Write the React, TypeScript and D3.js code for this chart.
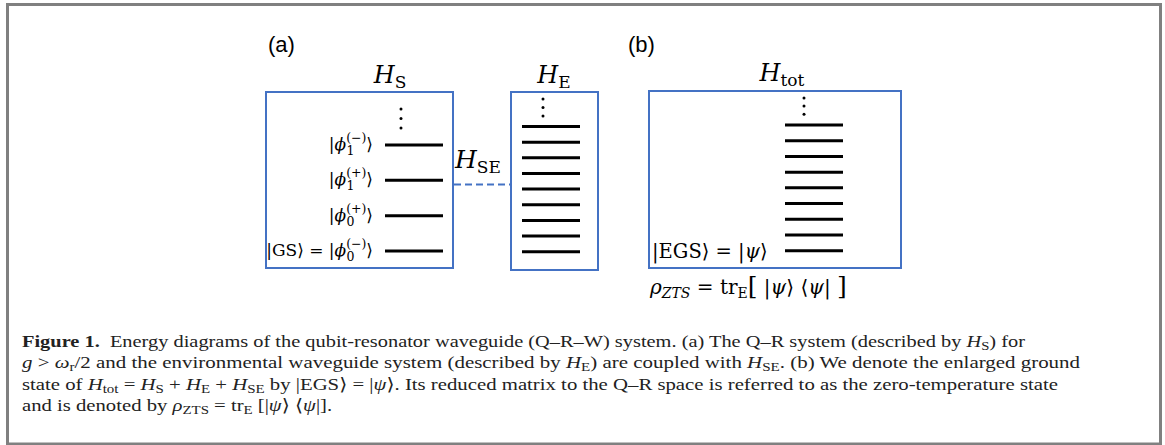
import React, { useLayoutEffect, useRef } from "react";
import * as d3 from "d3";

const W = 1165;
const H = 445;

// energy level indices
const sysLevels = [0, 1, 2, 3];
const sysSub = ["0", "0", "1", "1"];
const sysSup = ["(−)", "(+)", "(+)", "(−)"];
const sysPrefix = ["|GS⟩ = ", "", "", ""];
const envLevels = [0, 1, 2, 3, 4, 5, 6, 7, 8];
const totLevels = [0, 1, 2, 3, 4, 5, 6, 7, 8];

type Seg = { t: string; i?: boolean; b?: boolean; sub?: boolean };

const captionLines: Seg[][] = [
  [
    { t: "Figure 1.", b: true },
    { t: "  Energy diagrams of the qubit-resonator waveguide (Q–R–W) system. (a) The Q–R system (described by " },
    { t: "H", i: true },
    { t: "S", sub: true },
    { t: ") for" },
  ],
  [
    { t: "g", i: true },
    { t: " > " },
    { t: "ω", i: true },
    { t: "r", sub: true },
    { t: "/2 and the environmental waveguide system (described by " },
    { t: "H", i: true },
    { t: "E", sub: true },
    { t: ") are coupled with " },
    { t: "H", i: true },
    { t: "SE", sub: true },
    { t: ". (b) We denote the enlarged ground" },
  ],
  [
    { t: "state of " },
    { t: "H", i: true },
    { t: "tot", sub: true },
    { t: " = " },
    { t: "H", i: true },
    { t: "S", sub: true },
    { t: " + " },
    { t: "H", i: true },
    { t: "E", sub: true },
    { t: " + " },
    { t: "H", i: true },
    { t: "SE", sub: true },
    { t: " by |EGS⟩ = |" },
    { t: "ψ", i: true },
    { t: "⟩. Its reduced matrix to the Q–R space is referred to as the zero-temperature state" },
  ],
  [
    { t: "and is denoted by " },
    { t: "ρ", i: true },
    { t: "ZTS", sub: true },
    { t: " = tr" },
    { t: "E", sub: true },
    { t: " [|" },
    { t: "ψ", i: true },
    { t: "⟩ ⟨" },
    { t: "ψ", i: true },
    { t: "|]." },
  ],
];
const captionWidths = [1003, 1058, 1036, 0];
const captionBaselines = [347, 368.3, 389.6, 410.9];

const BLUE = "#4472C4";
const SERIF = "'Liberation Serif', 'DejaVu Serif', serif";
const MATH = "'DejaVu Serif', 'Liberation Serif', serif";
const SANS = "'Liberation Sans', Arial, sans-serif";
const CAP = 17.5;

function renderSegs(segs: Seg[], base: number) {
  let shifted = false;
  return segs.map((s, k) => {
    let dy: number | undefined;
    if (s.sub && !shifted) {
      dy = 3;
      shifted = true;
    } else if (!s.sub && shifted) {
      dy = -3;
      shifted = false;
    }
    return (
      <tspan
        key={k}
        dy={dy}
        fontStyle={s.i ? "italic" : undefined}
        fontWeight={s.b ? "bold" : undefined}
        fontSize={s.sub ? base * 0.72 : undefined}
      >
        {s.t}
      </tspan>
    );
  });
}

function HLabel({ x, y, sub, anchor }: { x: number; y: number; sub: string; anchor: string }) {
  return (
    <text x={x} y={y} textAnchor={anchor} fontFamily={MATH} fontSize={24} fill="#000">
      <tspan fontStyle="italic">H</tspan>
      <tspan fontSize={17} dy={5}>
        {sub}
      </tspan>
    </text>
  );
}

function Dots({ x, ys }: { x: number; ys: number[] }) {
  return (
    <g>
      {ys.map((y, i) => (
        <circle key={i} cx={x} cy={y} r={1.5} fill="#000" />
      ))}
    </g>
  );
}

export default function App() {
  const yS = d3.scaleLinear().domain([0, 3]).range([251, 145]);
  const yE = d3.scaleLinear().domain([0, 8]).range([251.7, 126.5]);
  const yT = d3.scaleLinear().domain([0, 8]).range([250.7, 125]);

  const capRefs = useRef<(SVGTextElement | null)[]>([]);

  useLayoutEffect(() => {
    const els = capRefs.current;
    const nat = els.map((el) => {
      if (!el) return 0;
      el.removeAttribute("textLength");
      return el.getComputedTextLength();
    });
    const ratios = captionWidths
      .map((w, i) => (w && nat[i] ? w / nat[i] : 0))
      .filter((r) => r > 0);
    const f = d3.mean(ratios) || 1;
    els.forEach((el, i) => {
      if (!el) return;
      const target = captionWidths[i] || nat[i] * f;
      d3.select(el).attr("textLength", target).attr("lengthAdjust", "spacingAndGlyphs");
    });
  }, []);

  const scr = 12.5;
  const supW = 20;
  const subW = 8;

  return (
    <svg
      width={W}
      height={H}
      style={{ position: "absolute", left: 0, top: 0, background: "#fff" }}
    >
      <rect x={0} y={0} width={W} height={H} fill="#fff" />
      {/* outer frame */}
      <rect x={7.5} y={4.5} width={1153} height={439.5} fill="none" stroke="#808080" strokeWidth={3} />

      {/* panel (a) */}
      <text x={268} y={52} fontFamily={SANS} fontSize={22} fill="#000">
        (a)
      </text>
      <HLabel x={390} y={83} sub="S" anchor="middle" />
      <rect x={266} y={92} width={187} height={176} fill="none" stroke={BLUE} strokeWidth={2} />
      <Dots x={401} ys={[109, 118.5, 128]} />
      {sysLevels.map((d, i) => (
        <g key={i}>
          <line x1={385} x2={443} y1={yS(d)} y2={yS(d)} stroke="#000" strokeWidth={3} />
          <text
            x={373}
            y={yS(d) + 5}
            textAnchor="end"
            fontFamily={MATH}
            fontSize={17}
            fill="#000"
            style={{ whiteSpace: "pre" }}
          >
            <tspan>{sysPrefix[i]}|</tspan>
            <tspan fontStyle="italic">ϕ</tspan>
            <tspan fontSize={scr} dy={-8}>
              {sysSup[i]}
            </tspan>
            <tspan fontSize={scr} dx={-supW} dy={13}>
              {sysSub[i]}
            </tspan>
            <tspan dx={supW - subW} dy={-5}>
              ⟩
            </tspan>
          </text>
        </g>
      ))}

      {/* coupling */}
      <text x={455} y={168} fontFamily={MATH} fontSize={25} fill="#000">
        <tspan fontStyle="italic">H</tspan>
        <tspan fontSize={17} dy={5}>
          SE
        </tspan>
      </text>
      <line x1={454} x2={510} y1={184.5} y2={184.5} stroke={BLUE} strokeWidth={2} strokeDasharray="7,4" />

      {/* H_E */}
      <HLabel x={554} y={83} sub="E" anchor="middle" />
      <rect x={511} y={92} width={87} height={178} fill="none" stroke={BLUE} strokeWidth={2} />
      <Dots x={543} ys={[99, 107.5, 116]} />
      {envLevels.map((d, i) => (
        <line key={i} x1={522} x2={580} y1={yE(d)} y2={yE(d)} stroke="#000" strokeWidth={3} />
      ))}

      {/* panel (b) */}
      <text x={628} y={52} fontFamily={SANS} fontSize={22} fill="#000">
        (b)
      </text>
      <HLabel x={782} y={81} sub="tot" anchor="middle" />
      <rect x={649} y={91} width={252} height={177} fill="none" stroke={BLUE} strokeWidth={2} />
      <Dots x={804} ys={[98, 106, 114.3]} />
      {totLevels.map((d, i) => (
        <line key={i} x1={785} x2={843} y1={yT(d)} y2={yT(d)} stroke="#000" strokeWidth={3} />
      ))}
      <text x={652} y={258} fontFamily={MATH} fontSize={19.5} fill="#000" style={{ whiteSpace: "pre" }}>
        <tspan>|EGS⟩ = |</tspan>
        <tspan fontStyle="italic">ψ</tspan>
        <tspan>⟩</tspan>
      </text>
      <text x={650} y={294} fontFamily={MATH} fontSize={20} fill="#000" style={{ whiteSpace: "pre" }}>
        <tspan fontStyle="italic">ρ</tspan>
        <tspan fontStyle="italic" fontSize={14} dy={4}>
          ZTS
        </tspan>
        <tspan dy={-4}> = tr</tspan>
        <tspan fontSize={14} dy={4}>
          E
        </tspan>
        <tspan dy={-4} fontSize={25}>
          [
        </tspan>
        <tspan> |</tspan>
        <tspan fontStyle="italic">ψ</tspan>
        <tspan>⟩ ⟨</tspan>
        <tspan fontStyle="italic">ψ</tspan>
        <tspan>| </tspan>
        <tspan fontSize={25}>]</tspan>
      </text>

      {/* caption */}
      {captionLines.map((segs, li) => (
        <text
          key={li}
          ref={(el) => {
            capRefs.current[li] = el;
          }}
          x={22}
          y={captionBaselines[li]}
          fontFamily={SERIF}
          fontSize={CAP}
          fill="#222"
          style={{ whiteSpace: "pre" }}
        >
          {renderSegs(segs, CAP)}
        </text>
      ))}
    </svg>
  );
}
